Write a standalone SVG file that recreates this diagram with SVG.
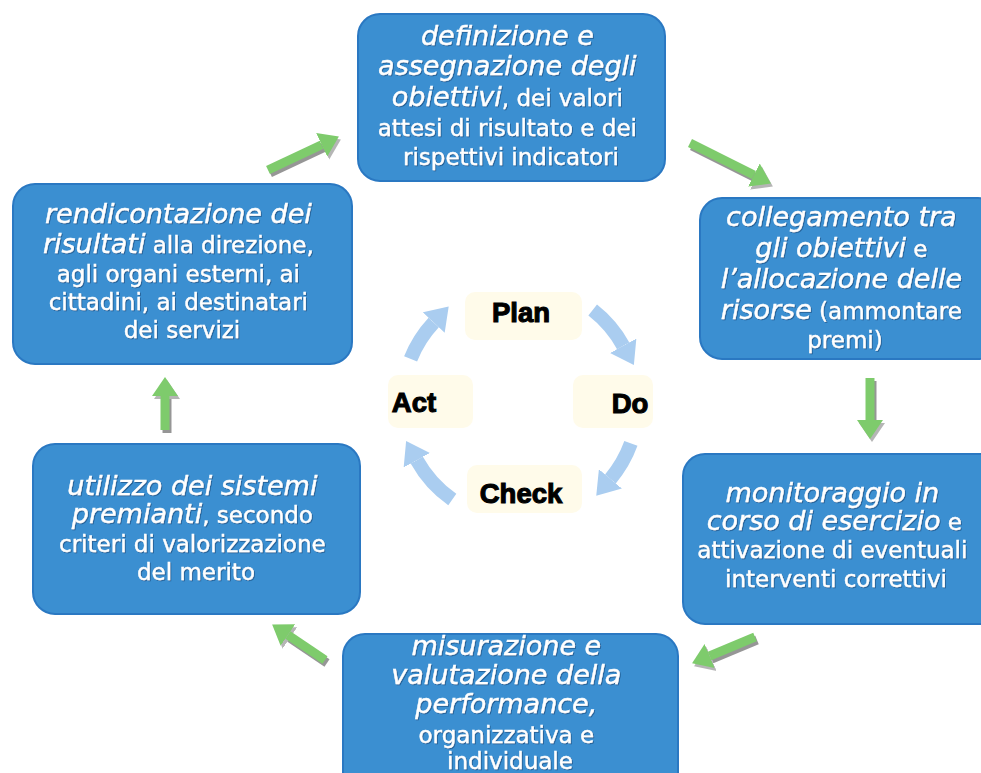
<svg xmlns="http://www.w3.org/2000/svg" width="981" height="773" viewBox="0 0 981 773">
<defs>
<style>
.box{fill:#3b8fd1;stroke:#2a78c2;stroke-width:2}
.t{font-family:"DejaVu Sans",Verdana,sans-serif;font-size:23px;fill:#ffffff;stroke:#ffffff;stroke-width:0.4;text-anchor:middle}
.i{font-style:italic;font-size:27px}
.pd{font-family:"Liberation Sans",Arial,sans-serif;font-weight:bold;font-size:27.5px;fill:#000;stroke:#000;stroke-width:1.1;text-anchor:middle}
.pbg{fill:#fffbea}
.ga{fill:none;stroke:#7ecb6c;stroke-width:9}
.gs{fill:none;stroke:#6a6a6a;stroke-width:9;opacity:0.7}
.ba{fill:none;stroke:#aacdf0;stroke-width:14}
</style>
<filter id="ts" x="-5%" y="-20%" width="110%" height="140%">
<feDropShadow dx="1" dy="1" stdDeviation="0.6" flood-color="#1a4f80" flood-opacity="0.7"/>
</filter>
<marker id="gh" markerUnits="userSpaceOnUse" markerWidth="20" markerHeight="28" refX="0" refY="13" orient="auto" viewBox="0 0 20 26">
<path d="M0,0 L19,13 L0,26 z" fill="#7ecb6c"/>
</marker>
<marker id="sh" markerUnits="userSpaceOnUse" markerWidth="20" markerHeight="28" refX="0" refY="13" orient="auto" viewBox="0 0 20 26">
<path d="M0,0 L19,13 L0,26 z" fill="#6a6a6a" opacity="0.7"/>
</marker>
<marker id="bh" markerUnits="userSpaceOnUse" markerWidth="22" markerHeight="30" refX="0" refY="15" orient="auto" viewBox="0 0 22 30">
<path d="M0,0 L22,15 L0,30 z" fill="#aacdf0"/>
</marker>
</defs>
<rect x="0" y="0" width="981" height="773" fill="#ffffff"/>

<g id="connectors">
<g transform="translate(2,3)">
<path class="gs" d="M268,170 L321.7,144.7" marker-end="url(#sh)"/>
<path class="gs" d="M690,143 L753.9,175" marker-end="url(#sh)"/>
<path class="gs" d="M870,378 L870,420" marker-end="url(#sh)"/>
<path class="gs" d="M755,637 L709.6,656" marker-end="url(#sh)"/>
<path class="gs" d="M325,660 L287.9,635" marker-end="url(#sh)"/>
<path class="gs" d="M165,430 L165,396" marker-end="url(#sh)"/>
</g>
<path class="ga" d="M268,170 L321.7,144.7" marker-end="url(#gh)"/>
<path class="ga" d="M690,143 L753.9,175" marker-end="url(#gh)"/>
<path class="ga" d="M870,378 L870,420" marker-end="url(#gh)"/>
<path class="ga" d="M755,637 L709.6,656" marker-end="url(#gh)"/>
<path class="ga" d="M325,660 L287.9,635" marker-end="url(#gh)"/>
<path class="ga" d="M165,430 L165,396" marker-end="url(#gh)"/>

<path class="ba" d="M410.6,358.8 A118,118 0 0 1 433.7,322.5" marker-end="url(#bh)"/>
<path class="ba" d="M592.7,310 A118,118 0 0 1 623.2,345.8" marker-end="url(#bh)"/>
<path class="ba" d="M630.9,443.4 A118,118 0 0 1 610.4,478.9" marker-end="url(#bh)"/>
<path class="ba" d="M452.3,499.6 A118,118 0 0 1 416.8,460.2" marker-end="url(#bh)"/>
</g>

<g id="n-definizione">
<rect class="box" x="358" y="14" width="307" height="167" rx="22"/>
<text class="t" filter="url(#ts)">
<tspan x="511" y="45" class="i">definizione e</tspan>
<tspan x="511" y="75" class="i">assegnazione degli</tspan>
<tspan x="511" y="106"><tspan class="i">obiettivi</tspan>, dei valori</tspan>
<tspan x="511" y="136">attesi di risultato e dei</tspan>
<tspan x="511" y="165">rispettivi indicatori</tspan>
</text>
</g>

<g id="n-collegamento">
<rect class="box" x="700" y="198" width="300" height="161" rx="22"/>
<text class="t" filter="url(#ts)">
<tspan x="845" y="226" class="i">collegamento tra</tspan>
<tspan x="845" y="257"><tspan class="i">gli obiettivi</tspan> e</tspan>
<tspan x="845" y="288" class="i">l’allocazione delle</tspan>
<tspan x="845" y="319"><tspan class="i">risorse</tspan> (ammontare</tspan>
<tspan x="845" y="348">premi)</tspan>
</text>
</g>

<g id="n-monitoraggio">
<rect class="box" x="683" y="454" width="320" height="170" rx="22"/>
<text class="t" filter="url(#ts)">
<tspan x="836" y="502" class="i">monitoraggio in</tspan>
<tspan x="838" y="530"><tspan class="i">corso di esercizio</tspan> e</tspan>
<tspan x="836" y="558">attivazione di eventuali</tspan>
<tspan x="836" y="587">interventi correttivi</tspan>
</text>
</g>

<g id="n-misurazione">
<rect class="box" x="343" y="634" width="335" height="160" rx="22"/>
<text class="t" filter="url(#ts)">
<tspan x="510" y="655" class="i">misurazione e</tspan>
<tspan x="510" y="684" class="i">valutazione della</tspan>
<tspan x="510" y="713" class="i">performance,</tspan>
<tspan x="510" y="743">organizzativa e</tspan>
<tspan x="510" y="769">individuale</tspan>
</text>
</g>

<g id="n-utilizzo">
<rect class="box" x="33" y="444" width="327" height="170" rx="22"/>
<text class="t" filter="url(#ts)">
<tspan x="196" y="495" class="i">utilizzo dei sistemi</tspan>
<tspan x="196" y="523"><tspan class="i">premianti</tspan>, secondo</tspan>
<tspan x="196" y="552">criteri di valorizzazione</tspan>
<tspan x="196" y="580">del merito</tspan>
</text>
</g>

<g id="n-rendicontazione">
<rect class="box" x="13" y="184" width="339" height="180" rx="22"/>
<text class="t" filter="url(#ts)">
<tspan x="182" y="223" class="i">rendicontazione dei</tspan>
<tspan x="182" y="253"><tspan class="i">risultati</tspan> alla direzione,</tspan>
<tspan x="182" y="282">agli organi esterni, ai</tspan>
<tspan x="182" y="310">cittadini, ai destinatari</tspan>
<tspan x="182" y="338">dei servizi</tspan>
</text>
</g>

<g id="n-plan">
<rect class="pbg" x="465" y="292" width="117" height="48" rx="10"/>
<text class="pd" x="521" y="322">Plan</text>
</g>
<g id="n-do">
<rect class="pbg" x="573" y="375" width="80" height="53" rx="10"/>
<text class="pd" x="630" y="413">Do</text>
</g>
<g id="n-check">
<rect class="pbg" x="467" y="465" width="115" height="48" rx="10"/>
<text class="pd" x="521" y="503">Check</text>
</g>
<g id="n-act">
<rect class="pbg" x="388" y="375" width="85" height="53" rx="10"/>
<text class="pd" x="414" y="412">Act</text>
</g>
</svg>
